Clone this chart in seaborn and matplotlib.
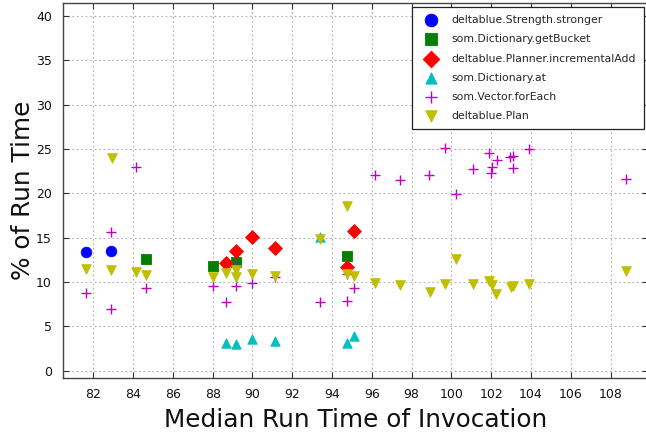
import matplotlib
matplotlib.use("Agg")
import matplotlib.pyplot as plt
import seaborn as sns
import pandas as pd

# ---- data ----
stronger_x = [81.63, 82.87]
stronger_y = [13.35, 13.47]

getbucket_x = [84.66, 88.03, 89.17, 94.76]
getbucket_y = [12.63, 11.84, 12.26, 12.97]

incadd_x = [88.67, 89.17, 89.96, 91.13, 94.76, 95.10]
incadd_y = [12.18, 13.53, 15.08, 13.87, 11.66, 15.79]

dictat_x = [88.67, 89.17, 89.96, 91.13, 93.39, 94.76, 95.10]
dictat_y = [3.09, 3.01, 3.57, 3.31, 15.11, 3.09, 3.95]

foreach_x = [81.63, 82.87, 82.87, 84.16, 84.66, 88.03, 88.67, 89.17, 89.17, 89.96,
             91.13, 93.39, 94.76, 94.76, 95.10, 96.18, 97.43, 98.88, 99.67, 100.23,
             101.10, 101.88, 102.27, 102.05, 102.00, 102.94, 103.10, 103.08, 103.91, 108.75]
foreach_y = [8.73, 15.60, 6.92, 23.00, 9.29, 9.55, 7.78, 9.55, 11.80, 9.93,
             10.60, 7.78, 7.89, 10.90, 9.29, 22.07, 21.50, 22.07, 25.15, 19.89,
             22.71, 24.52, 23.76, 23.00, 22.26, 24.13, 24.25, 22.83, 24.97, 21.62]

plan_x = [81.63, 82.87, 82.92, 84.16, 84.66, 88.03, 88.67, 89.17, 89.17, 89.96,
          91.13, 93.39, 94.76, 94.76, 95.10, 96.16, 97.43, 98.92, 99.69, 100.21,
          101.08, 101.88, 102.02, 102.25, 102.99, 103.10, 103.89, 108.75]
plan_y = [11.43, 11.36, 24.02, 11.17, 10.76, 10.60, 11.00, 11.36, 10.60, 10.94,
          10.68, 14.85, 18.57, 10.87, 10.68, 9.85, 9.66, 8.91, 9.74, 12.56,
          9.78, 10.12, 9.66, 8.65, 9.47, 9.55, 9.78, 11.24]

series_names = ["deltablue.Strength.stronger", "som.Dictionary.getBucket",
                "deltablue.Planner.incrementalAdd", "som.Dictionary.at",
                "som.Vector.forEach", "deltablue.Plan"]
series_x = [stronger_x, getbucket_x, incadd_x, dictat_x, foreach_x, plan_x]
series_y = [stronger_y, getbucket_y, incadd_y, dictat_y, foreach_y, plan_y]

x_ticks = list(range(82, 110, 2))
y_ticks = list(range(0, 45, 5))

# ---- style ----
colors = ["#0000ff", "#008000", "#ff0000", "#00bfbf", "#bf00bf", "#bfbf00"]
markers = ["o", "s", "D", "^", "+", "v"]
sizes = [58, 52, 50, 46, 55, 48]

sns.set_theme(style="white")
plt.rcParams["font.family"] = ["DejaVu Sans"]

fig = plt.figure(figsize=(6.46, 4.33), dpi=100)
ax = fig.add_axes([63 / 646, 55 / 433, 585 / 646, 375 / 433])

for name, xs, ys, c, m, s in zip(series_names, series_x, series_y, colors, markers, sizes):
    df = pd.DataFrame({"x": xs, "y": ys})
    if m == "+":
        sns.scatterplot(data=df, x="x", y="y", ax=ax, color=c, marker=m, s=s,
                        linewidth=1.0, label=name)
    else:
        sns.scatterplot(data=df, x="x", y="y", ax=ax, color=c, marker=m, s=s,
                        edgecolor=c, linewidth=0.6, label=name)

ax.set_xlim(80.48, 109.88)
ax.set_ylim(-0.82, 41.47)
ax.set_xticks(x_ticks)
ax.set_yticks(y_ticks)
ax.grid(True, linestyle=(0, (1.5, 2.5)), color="#b0b0b0", linewidth=0.8)
ax.tick_params(direction="in", length=4, width=0.8, colors="#333333",
               labelsize=9, top=True, right=True, bottom=True, left=True)
ax.tick_params(axis="x", pad=7, labelcolor="#111111")
ax.tick_params(axis="y", pad=8, labelcolor="#111111")
for sp in ax.spines.values():
    sp.set_color("#444444")
    sp.set_linewidth(1.0)

ax.set_xlabel("Median Run Time of Invocation", fontsize=17.8, color="#111111", labelpad=5)
ax.set_ylabel("% of Run Time", fontsize=17.8, color="#111111", labelpad=1)

leg = ax.legend(loc="upper right", bbox_to_anchor=(644 / 646, 1 - 7 / 433),
                bbox_transform=fig.transFigure, fontsize=7.8, markerscale=1.2,
                frameon=True, fancybox=False, framealpha=1, edgecolor="#222222",
                borderpad=0.75, labelspacing=0.85, handletextpad=0.85, handlelength=2.0,
                borderaxespad=0)
leg.get_frame().set_linewidth(0.9)

fig.savefig("out.png", dpi=100)
